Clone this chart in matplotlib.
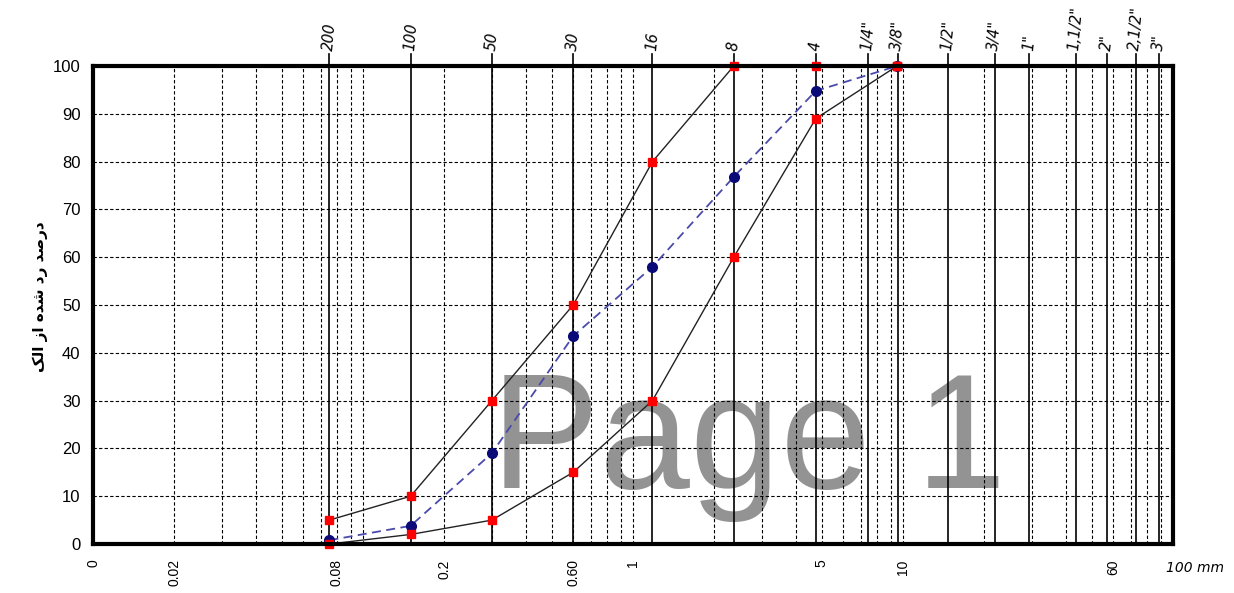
import matplotlib
matplotlib.use("Agg")
import matplotlib.pyplot as plt
import matplotlib.transforms as mtransforms
from matplotlib.ticker import NullLocator
import numpy as np

# sieve sizes (mm) and the measured / limit curves
sizes = [0.075, 0.15, 0.3, 0.6, 1.18, 2.36, 4.75, 9.5]
upper = [5, 10, 30, 50, 80, 100, 100, 100]
lower = [0, 2, 5, 15, 30, 60, 89, 100]
passing = [0.8, 3.8, 19, 43.5, 58, 76.8, 94.8, 100]

# sieve lines along the top (positions as drawn on the sheet)
sieve_pos = [0.075, 0.15, 0.3, 0.6, 1.18, 2.36, 4.75, 7.4, 9.6, 14.7, 21.9, 29.4, 43.7, 57, 73, 89]
sieve_names = ['200', '100', '50', '30', '16', '8', '4', '1/4"', '3/8"', '1/2"', '3/4"',
               '1"', '1,1/2"', '2"', '2,1/2"', '3"']

# labels under the axis
mm_pos = [0.01, 0.02, 0.08, 0.2, 0.6, 1, 5, 10, 60]
mm_labels = ['0', '0.02', '0.08', '0.2', '0.60', '1', '5', '10', '60']

y_ticks = list(range(0, 101, 10))

# persian label, pre-shaped (presentation forms, visual order)
ylabel = '\uFB8F\uFEDF\uFE8D \uFEAF\uFE8D \uFEE9\uFEAA\uFEB7 \uFEA9\uFEAD \uFEAA\uFEBB\uFEAD\uFEA9'

plt.rcParams['font.family'] = ['Liberation Sans', 'DejaVu Sans']

fig = plt.figure(figsize=(12.34, 5.93), dpi=100)
ax = fig.add_axes([0.0754, 0.0826, 0.8752, 0.806])
ax.set_xscale('log')
ax.set_xlim(0.01, 100)
ax.set_ylim(0, 100)

dash = (0, (3, 2))
# dashed log grid
for dec in [0.01, 0.1, 1, 10]:
    for k in range(1, 10):
        v = k * dec
        if 0.01 < v < 100:
            ax.axvline(v, color='black', lw=0.8, ls=dash, zorder=1)
for y in y_ticks[1:-1]:
    ax.axhline(y, color='black', lw=0.8, ls=dash, zorder=1)

# solid sieve lines with names on top
for p, name in zip(sieve_pos, sieve_names):
    ax.axvline(p, ymin=0, ymax=1.026, color='black', lw=1.2, zorder=2, clip_on=False)
    ax.text(p, 1.032, name, transform=ax.get_xaxis_transform(), rotation=85,
            ha='center', va='bottom', fontsize=10.5, style='italic', family=['DejaVu Sans'])

# watermark, sits under the grid
ax.text(0.607, 0.177, 'Page 1', transform=fig.transFigure, fontsize=117, color='#939393',
        ha='center', va='baseline', zorder=0.5)

ax.plot(sizes, upper, color='#222222', lw=1.0, zorder=4)
ax.plot(sizes, lower, color='#222222', lw=1.0, zorder=4)
ax.plot(sizes, passing, color='#4a4aaa', lw=1.3, ls=(0, (5, 3)), zorder=4)
ax.plot(sizes, upper, ls='none', marker='s', ms=6, color='red', zorder=6, clip_on=False)
ax.plot(sizes, lower, ls='none', marker='s', ms=6, color='red', zorder=6, clip_on=False)
ax.plot(sizes, passing, ls='none', marker='o', ms=7, color='#0a0a78', zorder=5, clip_on=False)

ax.xaxis.set_minor_locator(NullLocator())
ax.set_xticks(mm_pos)
ax.set_xticklabels(mm_labels, rotation=90, fontsize=10)
offset = mtransforms.ScaledTranslation(5 / 100, 0, fig.dpi_scale_trans)
for lab in ax.get_xticklabels():
    lab.set_transform(lab.get_transform() + offset)
ax.tick_params(axis='x', length=0, pad=11)
ax.set_yticks(y_ticks)
ax.tick_params(axis='y', length=0, pad=9, labelsize=12)

for s in ax.spines.values():
    s.set_linewidth(3)
    s.set_zorder(7)

fig.text(0.033, 0.5, ylabel, rotation=90, ha='center', va='center', fontsize=11,
         fontweight='bold', family=['DejaVu Sans'])
fig.text(0.968, 0.042, '100 mm', ha='center', va='center', fontsize=10, style='italic',
         family=['DejaVu Sans'])

fig.savefig('out.png', dpi=100)
